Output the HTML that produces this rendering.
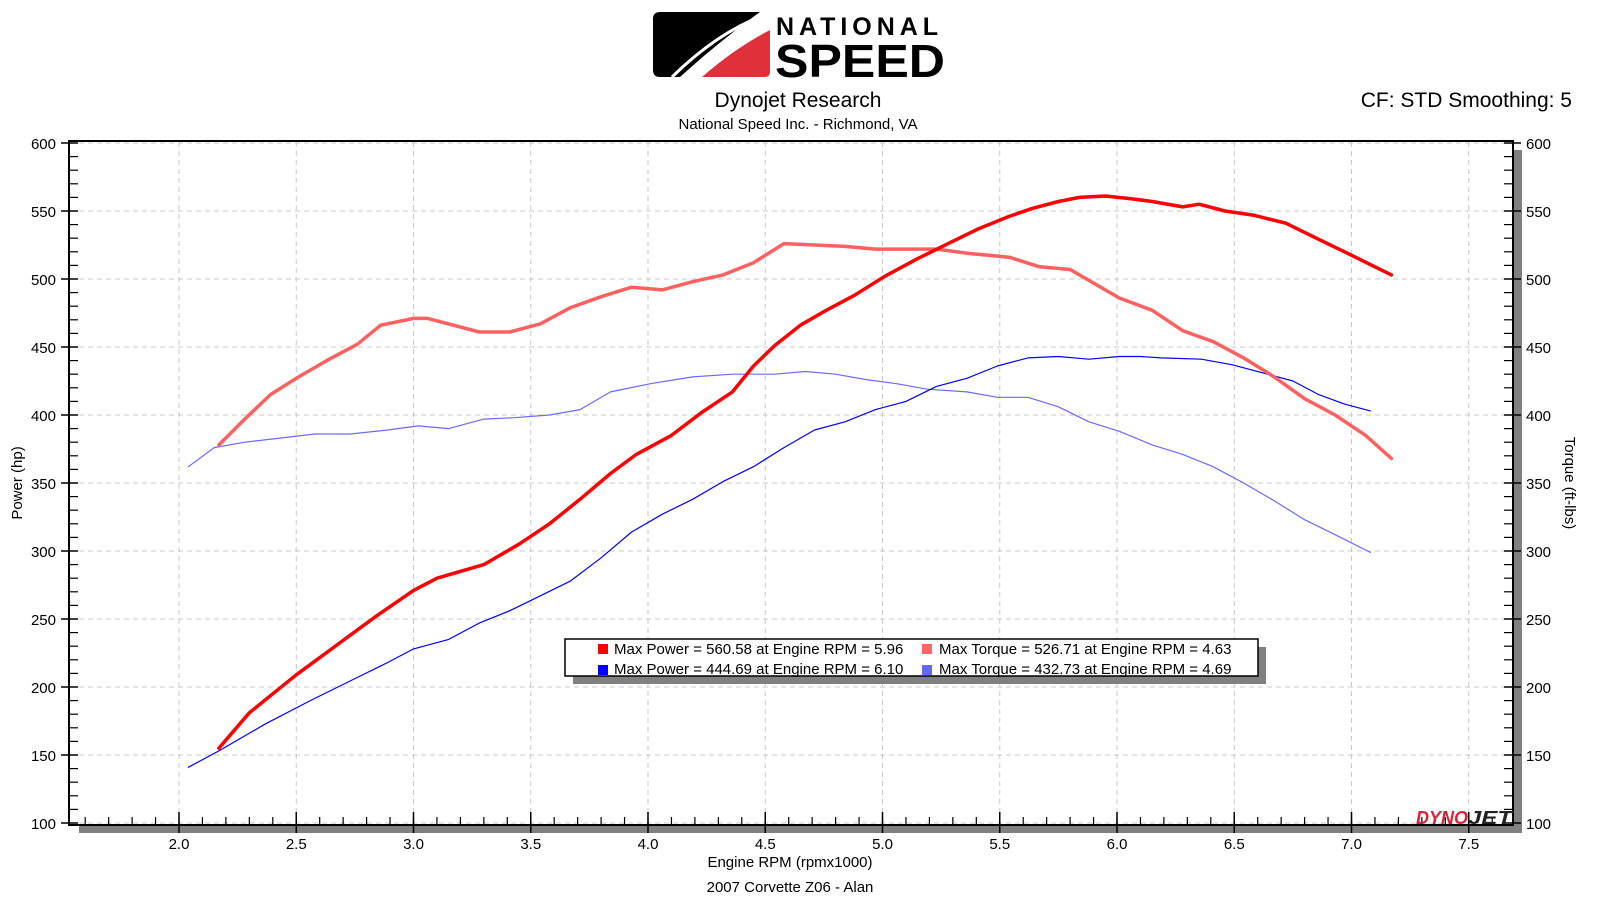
<!DOCTYPE html>
<html><head><meta charset="utf-8"><style>
body{margin:0;background:#fff;width:1598px;height:898px;overflow:hidden}
svg text{font-family:"Liberation Sans","DejaVu Sans",sans-serif;fill:#000}
</style></head><body>
<svg id="chart" width="1598" height="898" viewBox="0 0 1598 898">
<g>
<path d="M660 12 L760 12 Q735 30 705 55 Q690 68 680 77 L660 77 Q653 77 653 70 L653 19 Q653 12 660 12Z" fill="#000"/>
<path d="M770 30 L770 72 Q770 77 764 77 L702 77 Q735 48 770 30Z" fill="#e0303a"/>
<path d="M672 77 Q720 30 768 14" stroke="#fff" stroke-width="3" fill="none"/>
<text x="776" y="35" font-size="25" letter-spacing="6" font-weight="bold" textLength="168" lengthAdjust="spacing">NATIONAL</text>
<text x="775" y="77" font-size="46" font-weight="bold" textLength="170" lengthAdjust="spacingAndGlyphs">SPEED</text>
</g>
<text x="798" y="107" font-size="21" text-anchor="middle">Dynojet Research</text>
<text x="798" y="129" font-size="15" text-anchor="middle">National Speed Inc. - Richmond, VA</text>
<text x="1572" y="107" font-size="21" text-anchor="end">CF: STD Smoothing: 5</text>
<rect x="79" y="825" width="1443" height="8" fill="#808080"/>
<rect x="1513" y="150" width="9" height="683" fill="#808080"/>
<rect x="69" y="141" width="1444" height="684" fill="#fff" stroke="#000" stroke-width="2"/>
<g id="grid"></g><g id="axes"></g><g id="series"></g>
<g>
<rect x="573" y="647" width="693" height="37" fill="#808080"/>
<rect x="565" y="639" width="693" height="37" fill="#fff" stroke="#000" stroke-width="1.5"/>
<rect x="598" y="644" width="10" height="10" fill="#ff0000"/><text x="614" y="654" font-size="15">Max Power = 560.58 at Engine RPM = 5.96</text>
<rect x="922" y="644" width="10" height="10" fill="#ff6666"/><text x="939" y="654" font-size="15">Max Torque = 526.71 at Engine RPM = 4.63</text>
<rect x="598" y="665" width="10" height="10" fill="#0000ff"/><text x="614" y="674" font-size="15">Max Power = 444.69 at Engine RPM = 6.10</text>
<rect x="922" y="665" width="10" height="10" fill="#6666ff"/><text x="939" y="674" font-size="15">Max Torque = 432.73 at Engine RPM = 4.69</text>
</g>
<g><text x="1416" y="824" font-size="18" font-weight="bold" font-style="italic" textLength="52" lengthAdjust="spacingAndGlyphs" style="fill:#e0203a">DYNO</text><text x="1468" y="824" font-size="18" font-weight="bold" font-style="italic" textLength="44" lengthAdjust="spacingAndGlyphs" style="fill:#222">JET</text></g>
<text x="790" y="867" font-size="15" text-anchor="middle">Engine RPM (rpmx1000)</text>
<text x="790" y="892" font-size="15" text-anchor="middle">2007 Corvette Z06 - Alan</text>
<text transform="translate(22,483) rotate(-90)" font-size="15" text-anchor="middle">Power (hp)</text>
<text transform="translate(1565,483) rotate(90)" font-size="15" text-anchor="middle">Torque (ft-lbs)</text>
</svg>
<script>
const rpmPowerRed=[2.17,2.3,2.5,2.69,2.84,3.0,3.1,3.3,3.45,3.58,3.71,3.84,3.95,4.1,4.23,4.36,4.45,4.54,4.65,4.75,4.88,5.01,5.15,5.28,5.41,5.54,5.64,5.75,5.84,5.95,6.06,6.15,6.28,6.35,6.46,6.58,6.72,6.85,6.97,7.1,7.17];
const powerRed=[155,181,209,233,252,271,280,290,305,320,338,357,371,385,402,417,436,451,466,476,488,502,515,526,537,546,552,557,560,561,559,557,553,555,550,547,541,530,520,509,503];
const rpmTorqueRed=[2.17,2.28,2.39,2.5,2.63,2.76,2.86,3.0,3.06,3.17,3.28,3.41,3.54,3.67,3.8,3.93,4.06,4.19,4.32,4.45,4.58,4.71,4.84,4.97,5.1,5.23,5.36,5.54,5.67,5.8,5.9,6.01,6.15,6.28,6.41,6.54,6.67,6.8,6.93,7.06,7.17];
const torqueRed=[378,397,415,427,440,452,466,471,471,466,461,461,467,479,487,494,492,498,503,512,526,525,524,522,522,522,519,516,509,507,497,486,477,462,454,442,428,412,400,385,368];
const rpmPowerBlue=[2.04,2.17,2.37,2.56,2.76,2.89,3.0,3.15,3.28,3.41,3.54,3.67,3.8,3.93,4.06,4.19,4.32,4.45,4.58,4.71,4.84,4.97,5.1,5.23,5.36,5.49,5.62,5.75,5.88,6.01,6.1,6.19,6.36,6.49,6.62,6.75,6.86,6.97,7.08];
const powerBlue=[141,153,173,190,207,218,228,235,247,256,267,278,295,314,327,338,351,362,376,389,395,404,410,421,427,436,442,443,441,443,443,442,441,437,431,425,415,408,403];
const rpmTorqueBlue=[2.04,2.15,2.28,2.43,2.58,2.73,2.89,3.02,3.15,3.3,3.43,3.58,3.71,3.84,4.01,4.19,4.36,4.54,4.67,4.8,4.93,5.06,5.19,5.36,5.49,5.62,5.75,5.88,6.01,6.15,6.28,6.41,6.54,6.67,6.8,6.93,7.08];
const torqueBlue=[362,376,380,383,386,386,389,392,390,397,398,400,404,417,423,428,430,430,432,430,426,423,419,417,413,413,406,395,388,378,371,362,350,337,323,312,299];
const xTickLabels=["2.0","2.5","3.0","3.5","4.0","4.5","5.0","5.5","6.0","6.5","7.0","7.5"];
const yTickLabels=["100","150","200","250","300","350","400","450","500","550","600"];

const NS="http://www.w3.org/2000/svg";
const X=r=>179+(r-2)*234.5;
const Y=v=>143+(600-v)*1.36;
function mk(tag,attrs,parent){const e=document.createElementNS(NS,tag);for(const k in attrs)e.setAttribute(k,attrs[k]);parent.appendChild(e);return e;}
const grid=document.getElementById('grid'),axes=document.getElementById('axes'),ser=document.getElementById('series');
xTickLabels.forEach(t=>{const r=parseFloat(t),x=X(r);
 const g=mk('line',{x1:x,x2:x,y1:142,y2:824,stroke:'#c8c8c8','stroke-dasharray':'5,4'},grid);
 
 
 mk('line',{x1:x,x2:x,y1:812,y2:833,stroke:'#000','stroke-width':1.5},axes);
 const tx=mk('text',{x:x,y:849,'font-size':15,'text-anchor':'middle'},axes);tx.textContent=t;
 
 
});
for(let r=1.6;r<7.7;r+=0.1){const x=X(r);if(x<72||x>1510)continue;
 mk('line',{x1:x,x2:x,y1:817,y2:825,stroke:'#000','stroke-width':1.2},axes);}
yTickLabels.forEach(t=>{const v=parseFloat(t),y=Y(v);
 const g=mk('line',{x1:70,x2:1512,y1:y,y2:y,stroke:'#c8c8c8','stroke-dasharray':'5,4'},grid);
 
 
 mk('line',{x1:61,x2:78,y1:y,y2:y,stroke:'#000','stroke-width':1.5},axes);
 mk('line',{x1:1504,x2:1521,y1:y,y2:y,stroke:'#000','stroke-width':1.5},axes);
 const a=mk('text',{x:56,y:y+6,'font-size':15,'text-anchor':'end'},axes);a.textContent=t;
 
 
 const b=mk('text',{x:1526,y:y+6,'font-size':15},axes);b.textContent=t;
 
 
});
for(let v=110;v<600;v+=10){if(v%50===0)continue;const y=Y(v);
 mk('line',{x1:69,x2:78,y1:y,y2:y,stroke:'#000','stroke-width':1.2},axes);
 mk('line',{x1:1504,x2:1513,y1:y,y2:y,stroke:'#000','stroke-width':1.2},axes);}
function line(xs,ys,color,w,name){
 const d=xs.map((r,i)=>(i?'L':'M')+X(r).toFixed(1)+' '+Y(ys[i]).toFixed(1)).join(' ');
 const p=mk('path',{d:d,fill:'none',stroke:color,'stroke-width':w,'stroke-linejoin':'round','stroke-linecap':'round'},ser);
 
 
}
line(rpmTorqueBlue,torqueBlue,'#6a6aff',1.2,'torque-blue-line');
line(rpmPowerBlue,powerBlue,'#0000ff',1.2,'power-blue-line');
line(rpmTorqueRed,torqueRed,'#ff6060',3.5,'torque-red-line');
line(rpmPowerRed,powerRed,'#ff0000',3.5,'power-red-line');
</script>
</body></html>
